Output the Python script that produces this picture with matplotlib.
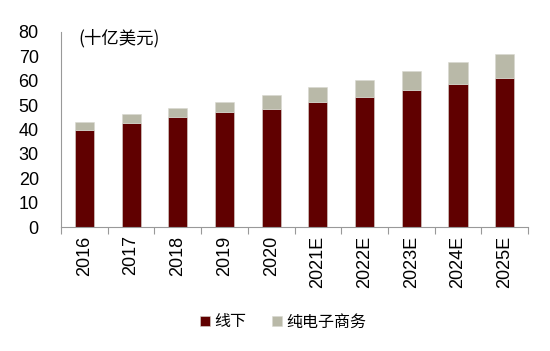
import numpy as np
import matplotlib
matplotlib.use("Agg")
import matplotlib.pyplot as plt

plt.rcParams['font.family'] = ['Noto Sans CJK SC', 'DejaVu Sans']

years = ['2016', '2017', '2018', '2019', '2020', '2021E', '2022E', '2023E', '2024E', '2025E']
offline = [39.7, 42.7, 45.1, 47.0, 48.6, 51.1, 53.5, 56.0, 58.5, 61.1]
online = [3.2, 3.5, 3.9, 4.4, 5.5, 6.3, 7.0, 7.9, 9.0, 9.9]

dark_red = '#600000'
grey = '#B9B9A8'

fig = plt.figure(figsize=(5.5, 3.51), dpi=100)
ax = fig.add_axes([0.111, 0.353, 0.849, 0.556])

x = np.arange(len(years))
ax.bar(x, offline, width=0.41, color=dark_red, edgecolor='#d8d8d0', linewidth=0.4, label='线下')
ax.bar(x, online, width=0.41, bottom=offline, color=grey, edgecolor='#d8d8d0', linewidth=0.4, label='纯电子商务')

ax.set_xlim(-0.5, len(years) - 0.5)
ax.set_ylim(0, 80)
ax.set_yticks(range(0, 81, 10))
ax.tick_params(axis='y', length=0, labelsize=13, pad=16)
for lab in ax.get_yticklabels():
    lab.set_fontfamily('Liberation Sans')

# category labels sit between the boundary ticks
ax.set_xticks(np.arange(-0.5, len(years), 1.0))
ax.set_xticklabels([])
ax.set_xticks(x, minor=True)
ax.set_xticklabels(years, minor=True, rotation=90, fontsize=13, fontfamily='Liberation Sans')
ax.tick_params(axis='x', which='major', length=5, color='#999999', direction='out')
ax.tick_params(axis='x', which='minor', length=0, pad=6)

for s in ['top', 'right']:
    ax.spines[s].set_visible(False)
ax.spines['left'].set_color('#999999')
ax.spines['bottom'].set_color('#999999')

fig.text(0.142, 0.89, '(十亿美元)', fontsize=12.5, ha='left', va='center')

fig.legend(loc='center', bbox_to_anchor=(0.515, 0.083), ncol=2, frameon=False,
           fontsize=11.5, handlelength=0.6, handleheight=0.6, handletextpad=0.3,
           columnspacing=1.6)

fig.savefig('out.png', dpi=100)
